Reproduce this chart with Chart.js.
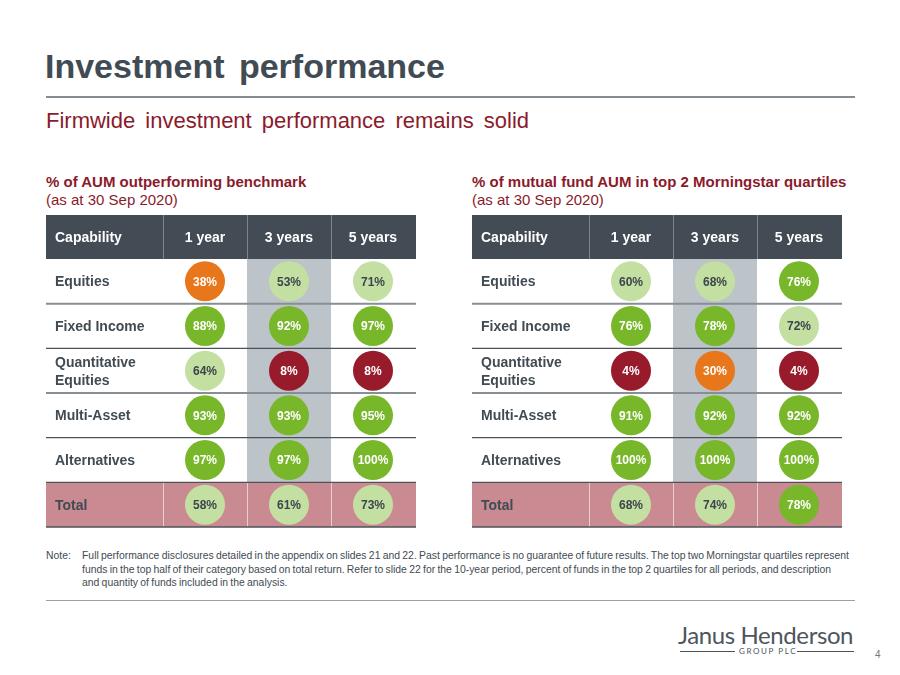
<!DOCTYPE html>
<html>
<head>
<meta charset="utf-8">
<script src="https://cdn.jsdelivr.net/npm/chart.js@4/dist/chart.umd.min.js"></script>
<style>
  body { margin: 0; background: #fff; font-family: "Liberation Sans", Arial, sans-serif; }
  #page { position: relative; width: 900px; height: 675px; overflow: hidden; }
  .t { position: absolute; white-space: nowrap; line-height: 1; }
  .rule { position: absolute; left: 46px; width: 809px; }
  canvas { position: absolute; }
  .note { font-size: 10.4px; color: #414b53; letter-spacing: 0; word-spacing: -0.6px; line-height: 13.5px; }
</style>
</head>
<body>
<div id="page">
  <div class="t" style="left:45px;top:49px;font-size:34px;font-weight:bold;color:#414b53;word-spacing:5px;">Investment performance</div>
  <div class="rule" style="top:96px;height:2px;background:#868d92;"></div>
  <div class="t" style="left:46px;top:110px;font-size:22px;color:#8b1a2b;word-spacing:4px;">Firmwide investment performance remains solid</div>

  <div class="t" style="left:46px;top:174px;font-size:15px;font-weight:bold;color:#8b1a2b;">% of AUM outperforming benchmark</div>
  <div class="t" style="left:46px;top:192px;font-size:15px;color:#8b1a2b;">(as at 30 Sep 2020)</div>
  <div class="t" style="left:472px;top:174px;font-size:15px;font-weight:bold;color:#8b1a2b;">% of mutual fund AUM in top 2 Morningstar quartiles</div>
  <div class="t" style="left:472px;top:192px;font-size:15px;color:#8b1a2b;">(as at 30 Sep 2020)</div>

  <canvas id="leftTable" width="370" height="313" style="left:46px;top:215px;"></canvas>
  <canvas id="rightTable" width="370" height="313" style="left:472px;top:215px;"></canvas>

  <div class="t note" style="left:46px;top:549px;">Note:</div>
  <div class="t note" style="left:82px;top:549px;">Full performance disclosures detailed in the appendix on slides 21 and 22. Past performance is no guarantee of future results. The top two Morningstar quartiles represent<br>funds in the top half of their category based on total return. Refer to slide 22 for the 10-year period, percent of funds in the top 2 quartiles for all periods, and description<br>and quantity of funds included in the analysis.</div>
  <div class="rule" style="top:600px;height:1px;background:#9aa0a5;"></div>

  <div class="t" style="left:678px;top:623px;font-size:24px;font-family:Lato,'Open Sans',sans-serif;color:#4d565d;letter-spacing:-0.4px;">Janus Henderson</div>
  <div style="position:absolute;left:680px;top:651px;width:55px;height:1px;background:#4d565d;"></div>
  <div class="t" style="left:739px;top:647px;font-size:8px;font-family:Lato,'Open Sans',sans-serif;color:#4d565d;letter-spacing:1.6px;">GROUP PLC</div>
  <div style="position:absolute;left:797px;top:651px;width:57px;height:1px;background:#4d565d;"></div>
  <div class="t" style="left:875px;top:650px;font-size:10px;color:#777;">4</div>
</div>

<script>
// Table rows and periods
const capabilities = ["Equities", "Fixed Income", "Quantitative Equities", "Multi-Asset", "Alternatives", "Total"];
const periods = ["1 year", "3 years", "5 years"];

// % of AUM outperforming benchmark
const benchmark1y = [38, 88, 64, 93, 97, 58];
const benchmark3y = [53, 92, 8, 93, 97, 61];
const benchmark5y = [71, 97, 8, 95, 100, 73];

// % of mutual fund AUM in top 2 Morningstar quartiles
const morningstar1y = [60, 76, 4, 91, 100, 68];
const morningstar3y = [68, 78, 30, 92, 100, 74];
const morningstar5y = [76, 72, 4, 92, 100, 78];

const DARK = "#414b53";

function fillFor(v) {
  if (v >= 75) return "#78b72a";
  if (v >= 50) return "#c4dfa2";
  if (v >= 25) return "#e8761a";
  return "#981b2c";
}
function textFor(v) {
  return (v >= 50 && v < 75) ? "#3c454c" : "#ffffff";
}

// Draws header, shaded column, total row, lines and row labels
const tableGrid = {
  id: "tableGrid",
  beforeDatasetsDraw(chart) {
    const { ctx, chartArea: ca, scales: { x, y } } = chart;
    const W = chart.width;
    const halfW = (x.getPixelForValue(1) - x.getPixelForValue(0)) / 2;
    const halfH = (y.getPixelForValue(1) - y.getPixelForValue(0)) / 2;
    const colEdges = [ca.left];
    periods.forEach((p, i) => colEdges.push(x.getPixelForValue(i) + halfW));
    const last = capabilities.length - 1;
    const totalTop = y.getPixelForValue(last) - halfH;
    const totalBottom = y.getPixelForValue(last) + halfH;

    ctx.save();
    // header
    ctx.fillStyle = "#434c54";
    ctx.fillRect(0, 0, W, ca.top);
    ctx.strokeStyle = "#7c858b";
    ctx.lineWidth = 1;
    colEdges.slice(0, 3).forEach(e => {
      ctx.beginPath(); ctx.moveTo(Math.round(e) + 0.5, 0); ctx.lineTo(Math.round(e) + 0.5, ca.top); ctx.stroke();
    });
    ctx.fillStyle = "#ffffff";
    ctx.font = "bold 14px 'Liberation Sans', Arial, sans-serif";
    ctx.textBaseline = "middle";
    ctx.textAlign = "left";
    ctx.fillText("Capability", 9, ca.top / 2 + 1);
    ctx.textAlign = "center";
    periods.forEach((p, i) => ctx.fillText(p, x.getPixelForValue(i), ca.top / 2 + 1));

    // shaded 3 years column
    const mid = x.getPixelForValue(1);
    ctx.fillStyle = "#bcc4ca";
    ctx.fillRect(mid - halfW, ca.top, halfW * 2, totalTop - ca.top);

    // total row
    ctx.fillStyle = "#c98a91";
    ctx.fillRect(0, totalTop, W, totalBottom - totalTop);
    ctx.strokeStyle = "#e9cdd0";
    ctx.lineWidth = 1;
    colEdges.slice(0, 3).forEach(e => {
      ctx.beginPath(); ctx.moveTo(Math.round(e) + 0.5, totalTop); ctx.lineTo(Math.round(e) + 0.5, totalBottom); ctx.stroke();
    });

    // row lines
    capabilities.forEach((c, i) => {
      const yb = y.getPixelForValue(i) + halfH;
      const soft = (i === 0 || i === 2);
      ctx.strokeStyle = soft ? "#878e94" : "#4b535a";
      ctx.lineWidth = soft ? 2 : 1.3;
      ctx.beginPath(); ctx.moveTo(0, yb); ctx.lineTo(W, yb); ctx.stroke();
    });

    // row labels
    ctx.fillStyle = DARK;
    ctx.font = "bold 14px 'Liberation Sans', Arial, sans-serif";
    ctx.textAlign = "left";
    capabilities.forEach((c, i) => {
      const cy = y.getPixelForValue(i) + 1;
      if (ctx.measureText(c).width > 100) {
        const words = c.split(" ");
        ctx.fillText(words[0], 9, cy - 9);
        ctx.fillText(words.slice(1).join(" "), 9, cy + 9);
      } else {
        ctx.fillText(c, 9, cy);
      }
    });
    ctx.restore();
  },
  afterDatasetsDraw(chart) {
    const { ctx } = chart;
    ctx.save();
    ctx.font = "bold 12px 'Liberation Sans', Arial, sans-serif";
    ctx.textAlign = "center";
    ctx.textBaseline = "middle";
    chart.data.datasets.forEach((ds, di) => {
      chart.getDatasetMeta(di).data.forEach((pt, i) => {
        const v = ds.data[i].v;
        ctx.fillStyle = textFor(v);
        ctx.fillText(v + "%", pt.x, pt.y + 1);
      });
    });
    ctx.restore();
  }
};

function buildTable(id, seriesList) {
  new Chart(document.getElementById(id), {
    type: "scatter",
    data: {
      datasets: seriesList.map((vals, pi) => ({
        label: periods[pi],
        data: vals.map((v, i) => ({ x: periods[pi], y: capabilities[i], v: v })),
        pointRadius: 20,
        pointHoverRadius: 20,
        borderWidth: 0,
        backgroundColor: c => fillFor(c.raw.v)
      }))
    },
    options: {
      responsive: false,
      animation: false,
      layout: { autoPadding: false, padding: { left: 117, top: 44, right: 1, bottom: 1 } },
      scales: {
        x: { type: "category", labels: periods, offset: true, display: false },
        y: { type: "category", labels: capabilities, offset: true, display: false }
      },
      plugins: { legend: { display: false }, tooltip: { enabled: false } }
    },
    plugins: [tableGrid]
  });
}

buildTable("leftTable", [benchmark1y, benchmark3y, benchmark5y]);
buildTable("rightTable", [morningstar1y, morningstar3y, morningstar5y]);
</script>
</body>
</html>
